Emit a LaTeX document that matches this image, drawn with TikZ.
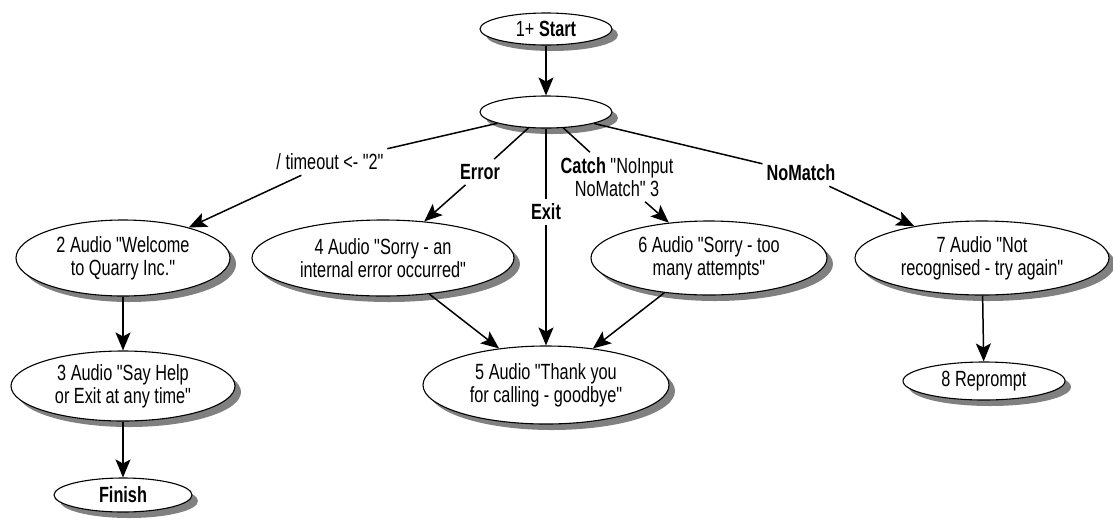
\documentclass[tikz,border=0pt]{standalone}
\usepackage{fontspec}
\setmainfont{Liberation Sans}[FakeStretch=0.74, Ligatures=TeXOff]
\usetikzlibrary{shapes.geometric,arrows.meta}
\definecolor{shadowgrey}{gray}{0.5}
\begin{document}
\begin{tikzpicture}[x=1pt,y=-1pt,
  font=\fontsize{22pt}{23pt}\selectfont,
  state/.style={ellipse, draw, line width=1.1pt, fill=white, inner sep=0pt, align=center},
  lbl/.style={inner xsep=4pt, inner ysep=5pt, align=center},
  flow/.style={line width=1.5pt, -{Stealth[length=18pt,width=15pt,inset=4pt]}}]
\useasboundingbox (0,0) rectangle (1113,523);

% grey drop shadows, 6pt down and to the right of each state
\begin{scope}[shadowgrey]
\fill (552,35)  ellipse [x radius=66pt,  y radius=16pt];
\fill (552,118) ellipse [x radius=66pt,  y radius=16pt];
\fill (129,264) ellipse [x radius=107pt, y radius=38pt];
\fill (129,392) ellipse [x radius=112pt, y radius=35pt];
\fill (129,501) ellipse [x radius=69pt,  y radius=17pt];
\fill (389,264) ellipse [x radius=131pt, y radius=38pt];
\fill (552,391) ellipse [x radius=123pt, y radius=39pt];
\fill (715,264) ellipse [x radius=118pt, y radius=37pt];
\fill (988,264) ellipse [x radius=127pt, y radius=37pt];
\fill (990,387) ellipse [x radius=81pt,  y radius=19pt];
\end{scope}

% states
\node[state, minimum width=132pt, minimum height=32pt] (start) at (546,29) {1+ \textbf{Start}};
\node[state, minimum width=132pt, minimum height=32pt] (menu) at (546,112) {};
\node[state, minimum width=214pt, minimum height=76pt] (welcome) at (123,258) {2 Audio "Welcome\\to Quarry Inc."};
\node[state, minimum width=224pt, minimum height=70pt] (sayhelp) at (123,386) {3 Audio "Say Help\\or Exit at any time"};
\node[state, minimum width=138pt, minimum height=34pt] (finish) at (123,495) {\textbf{Finish}};
\node[state, minimum width=262pt, minimum height=76pt] (interr) at (383,258) {4 Audio "Sorry - an\\internal error occurred"};
\node[state, minimum width=246pt, minimum height=78pt] (goodbye) at (546,385) {5 Audio "Thank you\\for calling - goodbye"};
\node[state, minimum width=236pt, minimum height=74pt] (toomany) at (709,258) {6 Audio "Sorry - too\\many attempts"};
\node[state, minimum width=254pt, minimum height=74pt] (notrec) at (982,258) {7 Audio "Not\\recognised - try again"};
\node[state, minimum width=162pt, minimum height=38pt] (reprompt) at (984,381) {8 Reprompt};

% transition labels
\node[lbl] (ltimeout) at (330,162) {/ timeout <- "2"};
\node[lbl] (lerror) at (480,172) {\textbf{Error}};
\node[lbl] (lexit) at (546,212) {\textbf{Exit}};
\node[lbl] (lcatch) at (617,177) {\textbf{Catch} "NoInput\\NoMatch" 3};
\node[lbl] (lnomatch) at (801,173) {\textbf{NoMatch}};

% transitions
\draw[flow] (start) -- (menu);
\draw[flow] (menu) -- (ltimeout) -- (welcome);
\draw[flow] (menu) -- (lerror) -- (interr);
\draw[flow] (menu) -- (lexit) -- (goodbye);
\draw[flow] (menu) -- (lcatch) -- (toomany);
\draw[flow] (menu) -- (lnomatch) -- (notrec);
\draw[flow] (welcome) -- (sayhelp);
\draw[flow] (sayhelp) -- (finish);
\draw[flow] (interr) -- (goodbye);
\draw[flow] (toomany) -- (goodbye);
\draw[flow] (notrec) -- (reprompt);
\end{tikzpicture}
\end{document}
